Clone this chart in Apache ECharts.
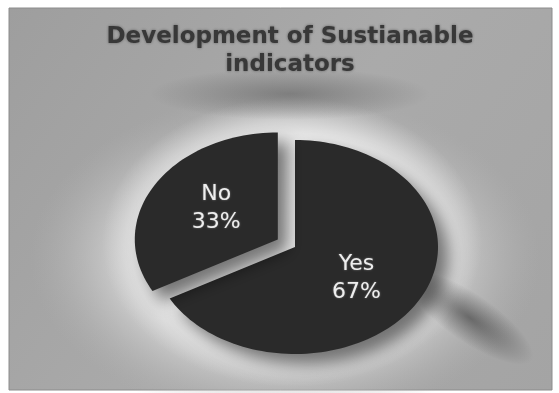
<!DOCTYPE html>
<html>
<head>
<meta charset="utf-8">
<script src="https://cdn.jsdelivr.net/npm/echarts@6/dist/echarts.min.js"></script>
<style>
  html, body { margin: 0; padding: 0; background: #ffffff; }
  #chart { width: 559px; height: 393px; }
</style>
</head>
<body>
<div id="chart"></div>
<script>
// Survey answers shown as a tilted (elliptical) pie
const categories = ['Yes', 'No'];
const values = [67, 33];
const titleText = 'Development of Sustianable\nindicators';

const total = values.reduce((a, b) => a + b, 0);
// start angles in degrees (screen coords, clockwise from +x), first slice starts at 12 o'clock
const startAngles = [];
let acc = -90;
values.forEach(v => { startAngles.push(acc); acc += v / total * 360; });

// pie layout
const PIE = { cx: 295, cy: 247, rx: 143, ry: 107, explode: 20, explodedIndex: 1 };

function sectorPoints(cx, cy, a0, a1) {
  const pts = [[cx, cy]];
  const steps = Math.max(8, Math.ceil(Math.abs(a1 - a0) / 2));
  for (let i = 0; i <= steps; i++) {
    const a = (a0 + (a1 - a0) * i / steps) * Math.PI / 180;
    pts.push([cx + PIE.rx * Math.cos(a), cy + PIE.ry * Math.sin(a)]);
  }
  return pts;
}

function renderSlice(params, api) {
  const i = params.dataIndex;
  const v = api.value(0);
  const a0 = startAngles[i];
  const a1 = a0 + v / total * 360;
  const mid = (a0 + a1) / 2 * Math.PI / 180;
  let cx = PIE.cx, cy = PIE.cy;
  if (i === PIE.explodedIndex) {
    cx += PIE.explode * Math.cos(mid);
    cy += PIE.explode * Math.sin(mid) * (PIE.ry / PIE.rx);
  }
  const lx = cx + PIE.rx * 0.5 * Math.cos(mid);
  const ly = cy + PIE.ry * 0.58 * Math.sin(mid);
  return {
    type: 'group',
    children: [
      {
        type: 'polygon',
        shape: { points: sectorPoints(cx, cy, a0, a1) },
        style: {
          fill: '#2a2a2a',
          shadowBlur: 16,
          shadowColor: 'rgba(0,0,0,0.5)',
          shadowOffsetX: 10,
          shadowOffsetY: 10
        }
      },
      {
        type: 'text',
        x: lx,
        y: ly,
        style: {
          text: categories[i] + '\n' + v + '%',
          fill: '#eeeeee',
          fontFamily: 'DejaVu Sans, sans-serif',
          fontSize: 22,
          lineHeight: 28,
          align: 'center',
          verticalAlign: 'middle',
          textShadowColor: 'rgba(255,255,255,0.4)',
          textShadowBlur: 2
        }
      }
    ]
  };
}

// soft blob: a circle with a radial fade, stretched into an ellipse
function blob(x, y, rx, ry, stops, rotation, z) {
  return {
    type: 'circle', z: z, x: x, y: y,
    rotation: rotation || 0,
    scaleX: rx / 100, scaleY: ry / 100,
    shape: { cx: 0, cy: 0, r: 100 },
    style: { fill: { type: 'radial', x: 0.5, y: 0.5, r: 0.5, colorStops: stops } }
  };
}

const chart = echarts.init(document.getElementById('chart'), null, { renderer: 'canvas' });
chart.setOption({
  backgroundColor: '#ffffff',
  animation: false,
  graphic: [
    // grey frame
    {
      type: 'rect', z: -10,
      shape: { x: 9, y: 8, width: 543, height: 382 },
      style: {
        fill: {
          type: 'linear', x: 0, y: 0, x2: 1, y2: 1,
          colorStops: [
            { offset: 0, color: '#9e9e9e' },
            { offset: 0.5, color: '#aaaaaa' },
            { offset: 1, color: '#a4a4a4' }
          ]
        },
        stroke: '#8c8c8c', lineWidth: 1
      }
    },
    // broad light glow behind the pie
    blob(285, 258, 255, 165, [
      { offset: 0, color: 'rgba(232,232,232,1)' },
      { offset: 0.6, color: 'rgba(222,222,222,0.85)' },
      { offset: 1, color: 'rgba(180,180,180,0)' }
    ], 0, -9),
    // brighter rim right around the pie
    blob(292, 242, 190, 145, [
      { offset: 0, color: 'rgba(240,240,240,1)' },
      { offset: 0.75, color: 'rgba(232,232,232,0.9)' },
      { offset: 1, color: 'rgba(220,220,220,0)' }
    ], 0, -8),
    // darker smudge under the title
    blob(290, 94, 140, 26, [
      { offset: 0, color: 'rgba(85,85,85,0.5)' },
      { offset: 1, color: 'rgba(85,85,85,0)' }
    ], 0, -7),
    // shadow streak lower right
    blob(470, 318, 75, 24, [
      { offset: 0, color: 'rgba(55,55,55,0.6)' },
      { offset: 1, color: 'rgba(55,55,55,0)' }
    ], -0.6, -7),
    // chart title
    {
      type: 'text', z: 10, x: 290, y: 23,
      style: {
        text: titleText,
        align: 'center',
        verticalAlign: 'top',
        fontFamily: 'DejaVu Sans, sans-serif',
        fontSize: 23,
        fontWeight: 'bold',
        fill: '#383838',
        lineHeight: 28,
        textShadowColor: 'rgba(50,50,50,0.6)',
        textShadowBlur: 3
      }
    }
  ],
  series: [{
    type: 'custom',
    coordinateSystem: 'none',
    renderItem: renderSlice,
    data: values.map(v => [v])
  }]
});
</script>
</body>
</html>
